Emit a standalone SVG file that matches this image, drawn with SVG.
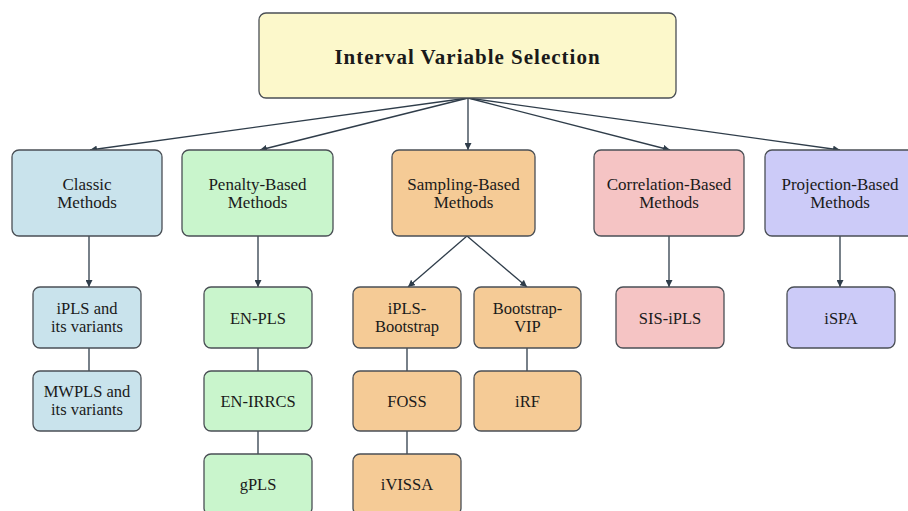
<svg xmlns="http://www.w3.org/2000/svg" width="908" height="511" viewBox="0 0 908 511">
<defs>
<marker id="arr" viewBox="0 0 10 10" refX="10" refY="5" markerWidth="7" markerHeight="7" markerUnits="userSpaceOnUse" orient="auto">
<path d="M0,0 L10,5 L0,10 z" fill="#2f3d4a"/>
</marker>
<style>
.box{stroke:#4a4f55;stroke-width:1.3}
.root{fill:#fcf8cb}
.cl{fill:#c9e3ec}
.pe{fill:#c9f5cc}
.sa{fill:#f5cb96}
.co{fill:#f5c4c4}
.pr{fill:#cccbf8}
text{font-family:'Liberation Serif','DejaVu Serif',serif;font-size:17px;fill:#1a1a1a;text-anchor:middle}
.s{font-size:16.5px}
.t{font-size:21px;font-weight:bold;letter-spacing:1px}
.c line{stroke:#2f3d4a;stroke-width:1.3;fill:none}
.a{marker-end:url(#arr)}
</style>
</defs>
<rect width="908" height="511" fill="#ffffff"/>
<g class="c" id="connectors">
<line class="a" x1="468" y1="98" x2="90" y2="150"/>
<line class="a" x1="468" y1="98" x2="260" y2="150"/>
<line class="a" x1="468" y1="98" x2="468" y2="150"/>
<line class="a" x1="468" y1="98" x2="670" y2="150"/>
<line class="a" x1="468" y1="98" x2="840" y2="150"/>
<line class="a" x1="89" y1="236" x2="89" y2="287"/>
<line class="a" x1="258" y1="236" x2="258" y2="287"/>
<line class="a" x1="467" y1="236" x2="408" y2="287"/>
<line class="a" x1="467" y1="236" x2="527" y2="287"/>
<line class="a" x1="669" y1="236" x2="669" y2="287"/>
<line class="a" x1="840" y1="236" x2="840" y2="287"/>
<line x1="89" y1="348" x2="89" y2="371"/>
<line x1="258" y1="348" x2="258" y2="371"/>
<line x1="258" y1="431" x2="258" y2="454"/>
<line x1="407" y1="348" x2="407" y2="371"/>
<line x1="407" y1="431" x2="407" y2="454"/>
<line x1="527" y1="348" x2="527" y2="371"/>
</g>
<g font-family="Liberation Serif, DejaVu Serif, serif">
<g id="root"><rect class="box root" x="259" y="13" width="417" height="85" rx="7"/><text class="t" x="467.5" y="64">Interval Variable Selection</text></g>
<g id="classic"><rect class="box cl" x="12" y="150" width="150" height="86" rx="7"/><text x="87" y="190">Classic</text><text x="87" y="208">Methods</text></g>
<g id="penalty"><rect class="box pe" x="182" y="150" width="151" height="86" rx="7"/><text x="257.5" y="190">Penalty-Based</text><text x="257.5" y="208">Methods</text></g>
<g id="sampling"><rect class="box sa" x="392" y="150" width="143" height="86" rx="7"/><text x="463.5" y="190">Sampling-Based</text><text x="463.5" y="208">Methods</text></g>
<g id="correlation"><rect class="box co" x="594" y="150" width="150" height="86" rx="7"/><text x="669" y="190">Correlation-Based</text><text x="669" y="208">Methods</text></g>
<g id="projection"><rect class="box pr" x="765" y="150" width="150" height="86" rx="7"/><text x="840" y="190">Projection-Based</text><text x="840" y="208">Methods</text></g>
<g id="ipls"><rect class="box cl" x="33" y="287" width="108" height="61" rx="7"/><text class="s" x="87" y="314">iPLS and</text><text class="s" x="87" y="332">its variants</text></g>
<g id="mwpls"><rect class="box cl" x="33" y="371" width="108" height="60" rx="7"/><text class="s" x="87" y="397">MWPLS and</text><text class="s" x="87" y="415">its variants</text></g>
<g id="enpls"><rect class="box pe" x="204" y="287" width="108" height="61" rx="7"/><text class="s" x="258" y="324">EN-PLS</text></g>
<g id="enirrcs"><rect class="box pe" x="204" y="371" width="108" height="60" rx="7"/><text class="s" x="258" y="407">EN-IRRCS</text></g>
<g id="gpls"><rect class="box pe" x="204" y="454" width="108" height="61" rx="7"/><text class="s" x="258" y="490">gPLS</text></g>
<g id="iplsboot"><rect class="box sa" x="353" y="287" width="108" height="61" rx="7"/><text class="s" x="407" y="314">iPLS-</text><text class="s" x="407" y="332">Bootstrap</text></g>
<g id="bootvip"><rect class="box sa" x="474" y="287" width="107" height="61" rx="7"/><text class="s" x="527.5" y="314">Bootstrap-</text><text class="s" x="527.5" y="332">VIP</text></g>
<g id="foss"><rect class="box sa" x="353" y="371" width="108" height="60" rx="7"/><text class="s" x="407" y="407">FOSS</text></g>
<g id="irf"><rect class="box sa" x="474" y="371" width="107" height="60" rx="7"/><text class="s" x="527.5" y="407">iRF</text></g>
<g id="ivissa"><rect class="box sa" x="353" y="454" width="108" height="61" rx="7"/><text class="s" x="407" y="490">iVISSA</text></g>
<g id="sisipls"><rect class="box co" x="616" y="287" width="108" height="61" rx="7"/><text class="s" x="670" y="324">SIS-iPLS</text></g>
<g id="ispa"><rect class="box pr" x="787" y="287" width="108" height="61" rx="7"/><text class="s" x="841" y="324">iSPA</text></g>
</g>
</svg>
